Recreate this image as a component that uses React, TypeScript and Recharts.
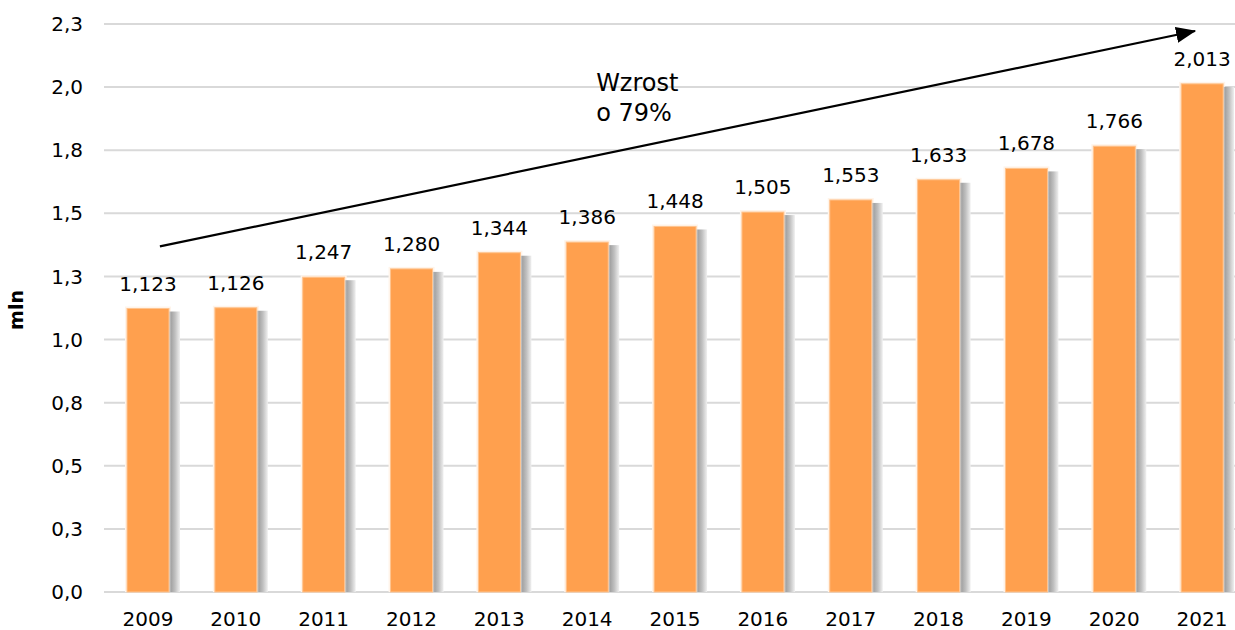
import React from 'react';
import {
  BarChart,
  Bar,
  XAxis,
  YAxis,
  CartesianGrid,
  LabelList,
  ReferenceLine,
  ReferenceDot,
} from 'recharts';

const years = ['2009', '2010', '2011', '2012', '2013', '2014', '2015', '2016', '2017', '2018', '2019', '2020', '2021'];
const values = [1.123, 1.126, 1.247, 1.28, 1.344, 1.386, 1.448, 1.505, 1.553, 1.633, 1.678, 1.766, 2.013];
const yTicks = [0, 0.25, 0.5, 0.75, 1, 1.25, 1.5, 1.75, 2, 2.25];
const trendStart = { x: '2009', y: 1.359 };
const trendEnd = { x: '2021', y: 2.228 };
const noteAnchor = { x: '2014', y: 1.984 };
const noteLines = ['Wzrost', 'o 79%'];

const data = years.map((year, i) => ({ year, val: values[i] }));

const FONT = '"DejaVu Sans", Verdana, sans-serif';
const fmtTick = (v: number) => v.toFixed(1).replace('.', ',');
const fmtVal = (v: number) => v.toFixed(3).replace('.', ',');

const ShadowBar = (props: any) => {
  const { x, y, width, height } = props;
  if (!height || height <= 0) return null;
  return (
    <g>
      <rect x={x - 2} y={y - 2} width={width + 4} height={height + 2} fill="#fff4ea" />
      <rect x={x + width} y={y + 3} width={11} height={height - 3} fill="url(#barShadow)" />
      <rect x={x} y={y} width={width} height={height} fill="#ffa04e" stroke="#ffc48f" strokeWidth={1} />
    </g>
  );
};

const TrendArrow = (props: any) => {
  const { x1, y1, x2, y2 } = props;
  const k = (y2 - y1) / (x2 - x1);
  return (
    <line
      x1={x1 + 12}
      y1={y1 + k * 12}
      x2={x2 - 7}
      y2={y2 - k * 7}
      stroke="#000"
      strokeWidth={2.2}
      markerEnd="url(#arrowHead)"
    />
  );
};

const NoteLabel = (props: any) => {
  const { viewBox } = props;
  const x = viewBox.x + 9;
  return (
    <text x={x} y={viewBox.y} fontSize={24} fontFamily={FONT} fill="#000">
      <tspan x={x}>{noteLines[0]}</tspan>
      <tspan x={x} dy={30}>{noteLines[1]}</tspan>
    </text>
  );
};

const AxisTitle = (props: any) => {
  const { viewBox } = props;
  const cy = viewBox.y + viewBox.height / 2 + 2;
  return (
    <text
      x={16}
      y={cy}
      transform={`rotate(-90 16 ${cy})`}
      textAnchor="middle"
      dominantBaseline="central"
      fontSize={19}
      fontWeight="bold"
      fontFamily={FONT}
      fill="#000"
    >
      mln
    </text>
  );
};

export default function App() {
  return (
    <div style={{ position: 'fixed', left: 0, top: 0, width: 1235, height: 630, overflow: 'hidden', background: '#fff' }}>
      <BarChart width={1250} height={630} data={data} margin={{ top: 24, right: 4, left: 0, bottom: 0 }}>
        <defs>
          <linearGradient id="barShadow" x1="0" y1="0" x2="1" y2="0">
            <stop offset="0%" stopColor="#d6d6d6" />
            <stop offset="20%" stopColor="#a4a4a4" />
            <stop offset="55%" stopColor="#c0c0c0" />
            <stop offset="100%" stopColor="#f0f0f0" />
          </linearGradient>
          <marker id="arrowHead" markerUnits="userSpaceOnUse" markerWidth={20} markerHeight={16} refX={19} refY={8} orient="auto">
            <path d="M0,0 L20,8 L0,16 z" fill="#000" />
          </marker>
        </defs>
        <CartesianGrid vertical={false} stroke="#d9d9d9" strokeWidth={2} />
        <XAxis
          dataKey="year"
          axisLine={false}
          tickLine={false}
          tickSize={6}
          tickMargin={14}
          height={38}
          interval={0}
          tick={{ fill: '#000', fontSize: 20, fontFamily: FONT }}
        />
        <YAxis
          domain={[0, 2.25]}
          ticks={yTicks}
          tickFormatter={fmtTick}
          axisLine={false}
          tickLine={false}
          tickSize={6}
          tickMargin={15}
          width={104}
          interval={0}
          tick={{ fill: '#000', fontSize: 20, fontFamily: FONT }}
          label={<AxisTitle />}
        />
        <Bar dataKey="val" barSize={42} shape={<ShadowBar />} isAnimationActive={false}>
          <LabelList
            dataKey="val"
            position="top"
            offset={18}
            formatter={(v: any) => fmtVal(Number(v))}
            style={{ fill: '#000', fontSize: 20, fontFamily: FONT }}
          />
        </Bar>
        <ReferenceLine segment={[trendStart, trendEnd]} ifOverflow="visible" shape={<TrendArrow />} />
        <ReferenceDot x={noteAnchor.x} y={noteAnchor.y} r={0} fill="none" stroke="none" label={<NoteLabel />} />
      </BarChart>
    </div>
  );
}
